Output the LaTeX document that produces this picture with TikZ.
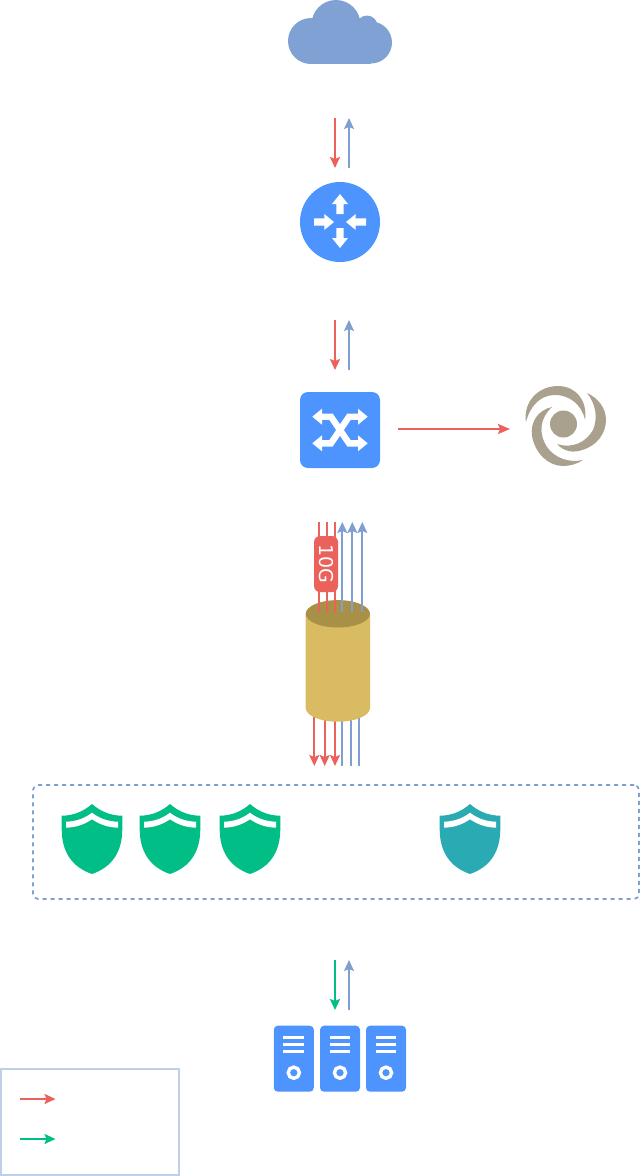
\documentclass[tikz,border=0pt]{standalone}
\usepackage{fontspec}
\setmainfont{DejaVu Sans}
\newfontfamily\labelfont{DejaVu Sans}
\usetikzlibrary{arrows.meta}
\definecolor{cred}{HTML}{EA625B}
\definecolor{cblueb}{HTML}{7F9FD0}
\definecolor{cgreen}{HTML}{00BE85}
\definecolor{cteal}{HTML}{2AABB3}
\definecolor{cicon}{HTML}{4D94FF}
\definecolor{ccloud}{HTML}{7FA1D3}
\definecolor{cgold}{HTML}{D9BB62}
\definecolor{cgoldd}{HTML}{A89047}
\definecolor{cswirl}{HTML}{A9A08E}
\definecolor{clegend}{HTML}{BFCFE8}
\tikzset{
  flowtip/.style={-{Stealth[length=11pt,width=10pt,inset=2pt]}},
  redflow/.style={line width=1.7pt,draw=cred,flowtip},
  blueflow/.style={line width=1.7pt,draw=cblueb,flowtip},
  greenflow/.style={line width=1.7pt,draw=cgreen,flowtip},
  plainred/.style={line width=1.7pt,draw=cred},
  plainblue/.style={line width=1.7pt,draw=cblueb},
  iconbox/.style={inner sep=0pt,outer sep=0pt,fill=cicon,rounded corners=#1},
  serverbox/.style={iconbox=4pt,minimum width=40pt,minimum height=66pt},
  whitearm/.style={line width=6.4pt,draw=white,line join=miter},
}
\newcommand{\shieldicon}[3]{%
  \coordinate (#3) at (#1,804);
  \begin{scope}[shift={(#3)}]
    \fill[#2] (0,0) .. controls (8,7) and (18,11.7) .. (30.3,11.7)
       -- (30.3,25) .. controls (30.3,48) and (20,63) .. (0,70)
       .. controls (-20,63) and (-30.3,48) .. (-30.3,25)
       -- (-30.3,11.7) .. controls (-18,11.7) and (-8,7) .. (0,0) -- cycle;
    \fill[white] (-26,17.7) .. controls (-15,17.4) and (-7,14) .. (0,8.7)
       .. controls (7,14) and (15,17.4) .. (26,17.7) -- (26,23.7)
       .. controls (15,23.4) and (7,20) .. (0,15.3)
       .. controls (-7,20) and (-15,23.4) .. (-26,23.7) -- cycle;
  \end{scope}}
\newcommand{\serverdetail}[1]{%
  \begin{scope}[shift={(#1)}]
    \fill[white] (-10.5,-22.7) rectangle (10.2,-19.4);
    \fill[white] (-10.5,-16) rectangle (10.2,-12.7);
    \fill[white] (-10.5,-8.7) rectangle (10.2,-5.4);
    \draw[white,line width=3.4pt] (0,14) circle (5.6pt);
  \end{scope}}
\begin{document}
\begin{tikzpicture}[x=1pt,y=-1pt]
\useasboundingbox (0,0) rectangle (640,1176);
% cloud
\coordinate (cloud) at (340,32);
\fill[ccloud] (311,41) circle (23pt) (336,24.5) circle (24.5pt) (367,26) circle (10.5pt) (371,42.5) circle (21pt);
\fill[ccloud] (311,30) rectangle (371,64);
% router
\node[circle,fill=cicon,minimum size=80pt,inner sep=0pt,outer sep=0pt] (router) at (340,222) {};
\fill[white] (340,194) -- (348,204) -- (343.7,204) -- (343.7,214) -- (336.3,214) -- (336.3,204) -- (332,204) -- cycle;
\fill[white] (340,248) -- (348,238) -- (343.7,238) -- (343.7,228) -- (336.3,228) -- (336.3,238) -- (332,238) -- cycle;
\fill[white] (334,222) -- (324.3,214) -- (324.3,218.3) -- (314,218.3) -- (314,225.7) -- (324.3,225.7) -- (324.3,230) -- cycle;
\fill[white] (346,222) -- (355.7,214) -- (355.7,218.3) -- (366,218.3) -- (366,225.7) -- (355.7,225.7) -- (355.7,230) -- cycle;
% arrows cloud-router
\coordinate (p1a) at (335,118); \coordinate (p1b) at (335,168);
\coordinate (p1c) at (349,168); \coordinate (p1d) at (349,118);
\draw[redflow] (p1a) -- (p1b);
\draw[blueflow] (p1c) -- (p1d);
% switch
\node[iconbox=8pt,minimum width=80pt,minimum height=76pt] (switch) at (340,430) {};
\draw[whitearm] (320,416.7) -- (331,416.7) -- (349,443.3) -- (360,443.3);
\draw[whitearm] (320,443.3) -- (331,443.3) -- (349,416.7) -- (360,416.7);
\fill[white] (312.3,416.7) -- (322,408.7) -- (322,424.7) -- cycle;
\fill[white] (312.3,443.3) -- (322,435.3) -- (322,451.3) -- cycle;
\fill[white] (367.7,416.7) -- (358,408.7) -- (358,424.7) -- cycle;
\fill[white] (367.7,443.3) -- (358,435.3) -- (358,451.3) -- cycle;
% arrows router-switch
\coordinate (p2a) at (335,320); \coordinate (p2b) at (335,370);
\coordinate (p2c) at (349,370); \coordinate (p2d) at (349,320);
\draw[redflow] (p2a) -- (p2b);
\draw[blueflow] (p2c) -- (p2d);
% swirl
\node[circle,fill=cswirl,minimum size=27pt,inner sep=0pt,outer sep=0pt] (swirl) at (563.5,424) {};
\fill[cswirl] (526,422) .. controls (523,402) and (538,386) .. (558,386)
   .. controls (575,386) and (588,400) .. (585,420)
   .. controls (582,404) and (568,394) .. (553,395)
   .. controls (540,396) and (530,406) .. (526,422) -- cycle;
\fill[cswirl] (552,407) .. controls (538,410) and (530,422) .. (532,436)
   .. controls (535,453) and (548,466) .. (563,466)
   .. controls (570,466) and (577,464) .. (583,460)
   .. controls (568,463) and (555,458) .. (547,447)
   .. controls (538,433) and (540,418) .. (552,407) -- cycle;
\fill[cswirl] (557,444) .. controls (564,452) and (574,453) .. (582,450)
   .. controls (597,446) and (606,433) .. (606,420)
   .. controls (606,408) and (598,398) .. (587,393)
   .. controls (596,404) and (598,418) .. (593,430)
   .. controls (586,442) and (573,449) .. (557,444) -- cycle;
\coordinate (swirlin) at (510,429);
\coordinate (switchout) at (398,429);
\draw[redflow,-{Stealth[length=12pt,width=10pt,inset=2pt]}] (switchout) -- (swirlin);
% cylinder feeds, lower (behind the body)
\foreach \nm/\xx in {a/314.3,b/324.7,c/335}{
  \coordinate (lr\nm) at (\xx,700); \coordinate (lre\nm) at (\xx,766);
  \draw[redflow] (lr\nm) -- (lre\nm);}
\foreach \nm/\xx in {a/342.3,b/350.7,c/358.7}{
  \coordinate (lb\nm) at (\xx,700); \coordinate (lbe\nm) at (\xx,766);
  \draw[plainblue] (lb\nm) -- (lbe\nm);}
% cylinder
\fill[cgold] (305.7,614) arc[start angle=180,end angle=360,x radius=32.15pt,y radius=13.7pt]
   -- (370,708) arc[start angle=0,end angle=-180,x radius=32.15pt,y radius=13.7pt] -- cycle;
\fill[cgold] (305.7,614) rectangle (370,708);
\fill[cgoldd] (337.85,613.8) ellipse[x radius=32.15pt,y radius=13.7pt];
% upper feeds
\foreach \nm/\xx in {a/318.7,b/326.7,c/334.7}{
  \coordinate (ur\nm) at (\xx,522); \coordinate (ure\nm) at (\xx,612);
  \draw[plainred] (ur\nm) -- (ure\nm);}
\foreach \nm/\xx in {a/342.3,b/352.3,c/362.3}{
  \coordinate (ub\nm) at (\xx,612); \coordinate (ube\nm) at (\xx,522);
  \draw[blueflow] (ub\nm) -- (ube\nm);}
\node[fill=cred,rounded corners=6pt,minimum width=24pt,minimum height=56pt,inner sep=0pt,outer sep=0pt] (tenbox) at (326,564) {};
\node[rotate=-90,text=white,font=\labelfont\fontsize{19}{19}\selectfont,inner sep=0pt] (tenlabel) at (326,564) {10G};
% dashed group
\node[draw=cblueb,line width=1.7pt,dash pattern=on 4pt off 4pt,rounded corners=5pt,minimum width=606pt,minimum height=114pt,inner sep=0pt,outer sep=0pt] (group) at (336,842) {};
\shieldicon{92}{cgreen}{sa}
\shieldicon{170}{cgreen}{sb}
\shieldicon{250}{cgreen}{sc}
\shieldicon{470}{cteal}{sd}
% arrows group-servers
\coordinate (p3a) at (335,960); \coordinate (p3b) at (335,1010);
\coordinate (p3c) at (349,1010); \coordinate (p3d) at (349,960);
\draw[greenflow] (p3a) -- (p3b);
\draw[blueflow] (p3c) -- (p3d);
% servers
\node[serverbox] (srva) at (293.8,1058.7) {};
\node[serverbox] (srvb) at (340,1058.7) {};
\node[serverbox] (srvc) at (386,1058.7) {};
\serverdetail{srva}
\serverdetail{srvb}
\serverdetail{srvc}
% legend
\node[draw=clegend,line width=1.7pt,minimum width=178pt,minimum height=106pt,inner sep=0pt,outer sep=0pt] (legend) at (90,1122) {};
\coordinate (lga) at (20,1099); \coordinate (lgb) at (55.5,1099);
\coordinate (lgc) at (20,1139); \coordinate (lgd) at (55.5,1139);
\draw[redflow] (lga) -- (lgb);
\draw[greenflow] (lgc) -- (lgd);
\end{tikzpicture}
\end{document}
